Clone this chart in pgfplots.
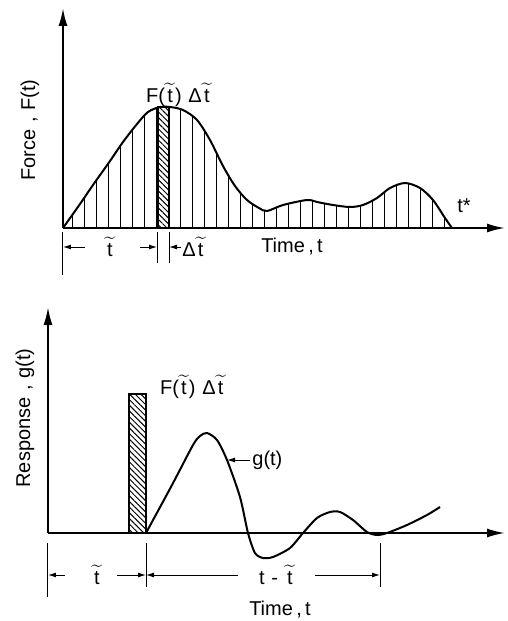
\documentclass[border=0pt]{standalone}
\usepackage{fontspec}
\setmainfont{Liberation Sans}
\usepackage{pgfplots}
\pgfplotsset{compat=1.18}
\usetikzlibrary{arrows.meta,patterns.meta}
\newcommand\tl{\ensuremath{\widetilde{\mkern2mu\mathrm{t}\mkern2mu}}}
\begin{document}
\begin{tikzpicture}[font=\fontsize{10}{12}\selectfont,
  dim/.style={line width=0.5pt,-{Latex[length=4pt,width=2.5pt]}},
  tk/.style={line width=0.5pt}]
\useasboundingbox (-31.5pt,114pt) rectangle (222.5pt,-196.5pt);
% ---------------- top panel ----------------
\begin{axis}[at={(0pt,0pt)}, anchor=south west, x=0.5pt, y=0.5pt,
  xmin=0, xmax=442, ymin=0, ymax=220,
  axis lines=left,
  axis line style={line width=1pt,-{Latex[length=9pt,width=4.5pt]}},
  xtick=\empty, ytick=\empty, clip=false]
\addplot[draw=none, smooth, pattern={Lines[angle=90,distance=6pt,line width=0.5pt]}]
 coordinates {(0,0) (17,24) (30,43) (47,67) (60,86) (74,104) (85,116) (97,121) (107,121)
 (120,118) (134,108) (147,88) (160,62) (172,42) (184,28) (196,20) (204,17) (220,23) (244,28)
 (254,26) (270,23) (287,21) (300,23) (314,30) (327,40) (342,45) (357,40) (370,28) (382,10) (389,0)} \closedcycle;
\addplot[line width=1pt, preaction={fill=white}, pattern={Lines[angle=-45,distance=2pt,line width=0.5pt]}]
 coordinates {(95,0) (95,121) (106,121) (106,0)} \closedcycle;
\addplot[smooth, line width=1pt]
 coordinates {(0,0) (17,24) (30,43) (47,67) (60,86) (74,104) (85,116) (97,121) (107,121)
 (120,118) (134,108) (147,88) (160,62) (172,42) (184,28) (196,20) (204,17) (220,23) (244,28)
 (254,26) (270,23) (287,21) (300,23) (314,30) (327,40) (342,45) (357,40) (370,28) (382,10) (389,0)};
\node at (axis cs:116,133) {F(\tl)\,\,Δ\tl};
\node at (axis cs:401,22) {t*};
\node[rotate=90] at (axis cs:-33,98) {Force\,\,,\,\,F(t)};
\node at (axis cs:229,-19) {Time\,,\,t};
\draw[tk] (axis cs:0,-4) -- (axis cs:0,-47);
\draw[tk] (axis cs:94,-4) -- (axis cs:94,-35);
\draw[tk] (axis cs:106,-4) -- (axis cs:106,-35);
\draw[dim] (axis cs:22,-19) -- (axis cs:0,-19);
\node at (axis cs:47,-19) {\tl};
\draw[dim] (axis cs:77,-19) -- (axis cs:94,-19);
\draw[dim] (axis cs:118,-19) -- (axis cs:106,-19);
\node[anchor=west,inner sep=0.5pt] at (axis cs:118,-19) {Δ\tl};
\end{axis}
% ---------------- bottom panel ----------------
\begin{axis}[at={(-7.5pt,-152.5pt)}, anchor=south west, x=0.5pt, y=0.5pt,
  xmin=0, xmax=457, ymin=0, ymax=226,
  axis lines=left,
  axis line style={line width=1pt,-{Latex[length=9pt,width=4.5pt]}},
  xtick=\empty, ytick=\empty, clip=false]
\addplot[line width=1pt, preaction={fill=white}, pattern={Lines[angle=-45,distance=2pt,line width=0.5pt]}]
 coordinates {(81,0) (81,139) (98,139) (98,0)} \closedcycle;
\addplot[smooth, tension=0.45, line width=1pt]
 coordinates {(98,0) (124,48) (145,88) (152,97) (159,100) (169,93) (179,73) (192,36)
 (200,0) (207,-20) (215,-25) (225,-24) (242,-15) (255,0) (269,15) (282,21) (292,21)
 (305,13) (319,1) (329,-2) (339,0) (359,8) (379,18) (392,26)};
\node[anchor=west] at (axis cs:105,146) {F(\tl)\,\,Δ\tl};
\draw[dim] (axis cs:202,73) -- (axis cs:179,73);
\node[anchor=west,inner sep=1pt] at (axis cs:202,73) {g(t)};
\node[rotate=90] at (axis cs:-23,115) {Response\,\,,\,\,g(t)};
\draw[tk] (axis cs:0,-10) -- (axis cs:0,-64);
\draw[tk] (axis cs:98,-10) -- (axis cs:98,-54);
\draw[tk] (axis cs:332,-10) -- (axis cs:332,-54);
\draw[dim] (axis cs:17,-42) -- (axis cs:0,-42);
\node at (axis cs:49,-42) {\tl};
\draw[dim] (axis cs:69,-42) -- (axis cs:98,-42);
\draw[dim] (axis cs:190,-42) -- (axis cs:98,-42);
\node at (axis cs:229,-42) {t\,\,-\,\,\tl};
\draw[dim] (axis cs:267,-42) -- (axis cs:332,-42);
\node at (axis cs:232,-77) {Time\,,\,t};
\end{axis}
\end{tikzpicture}
\end{document}
